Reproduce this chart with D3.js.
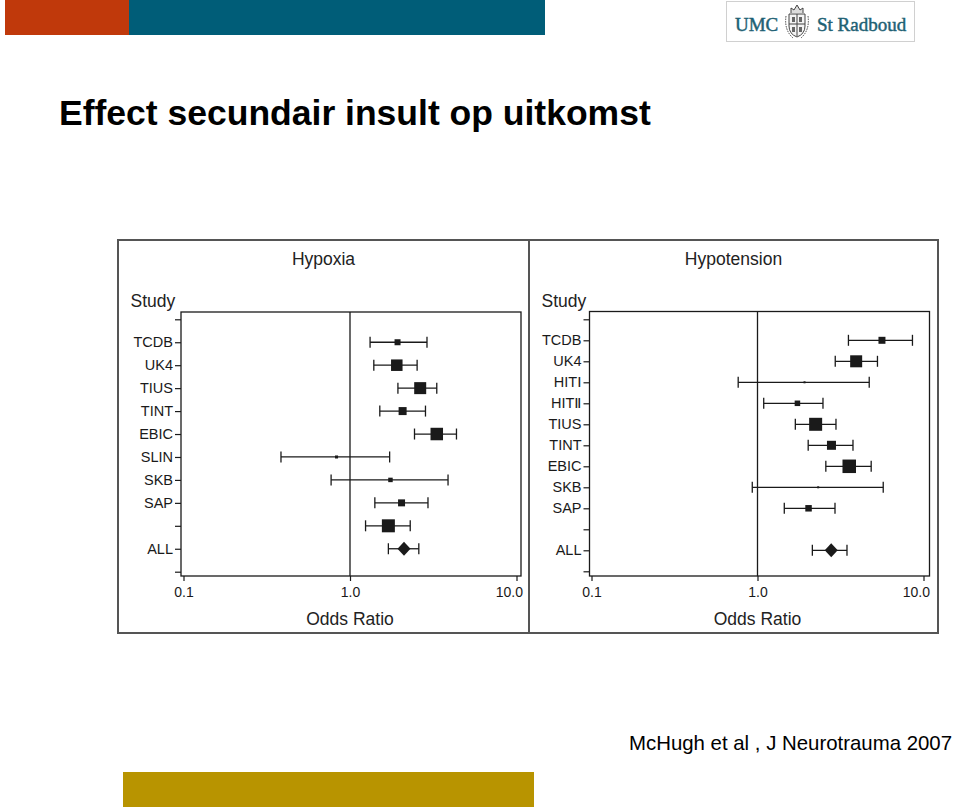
<!DOCTYPE html>
<html>
<head>
<meta charset="utf-8">
<script src="https://cdn.jsdelivr.net/npm/d3@7"></script>
<style>
  html, body { margin: 0; padding: 0; background: #fff; }
  svg { display: block; }
  text { font-family: "Liberation Sans", Arial, Helvetica, sans-serif; }
</style>
</head>
<body>
<svg id="chart" width="960" height="809"></svg>
<script>
// ---------------- DATA ----------------
const hypoxiaLabels = ["", "TCDB", "UK4", "TIUS", "TINT", "EBIC", "SLIN", "SKB", "SAP", "", "ALL", ""];
const hypoxiaOR     = [null, 1.93, 1.91, 2.64, 2.07, 3.32, 0.83, 1.75, 2.04, 1.70, 2.11, null];
const hypoxiaLow    = [null, 1.32, 1.39, 1.94, 1.51, 2.44, 0.385, 0.77, 1.41, 1.24, 1.70, null];
const hypoxiaHigh   = [null, 2.90, 2.53, 3.32, 2.84, 4.36, 1.73, 3.88, 2.94, 2.30, 2.59, null];
const hypoxiaWeight = [null, 5.9, 21.7, 23.6, 10.5, 25.6, 1.5, 3.3, 8.0, 27.7, null, null];

const hypotensionLabels = ["", "TCDB", "UK4", "HIT\u2160", "HIT\u2161", "TIUS", "TINT", "EBIC", "SKB", "SAP", "", "ALL", ""];
const hypotensionOR     = [null, 5.62, 3.93, 1.92, 1.74, 2.24, 2.79, 3.57, 2.32, 2.03, null, 2.78, null];
const hypotensionLow    = [null, 3.53, 2.94, 0.765, 1.09, 1.69, 2.02, 2.58, 0.93, 1.45, null, 2.14, null];
const hypotensionHigh   = [null, 8.58, 5.28, 4.71, 2.48, 2.97, 3.76, 4.84, 5.72, 2.93, null, 3.46, null];
const hypotensionWeight = [null, 8.0, 23.6, 0.66, 5.0, 27.7, 13.3, 29.9, 0.66, 6.9, null, null, null];

const xTickValues = [0.1, 1, 10];
const panelTitles = ["Hypoxia", "Hypotension"];
const studyTitle = "Study";
const xAxisTitle = "Odds Ratio";
const pageTitle = "Effect secundair insult op uitkomst";
const citation = "McHugh et al , J Neurotrauma 2007";

// ---------------- LAYOUT ----------------
const svg = d3.select("#chart");

// Top banner bars
svg.append("rect").attr("x", 5).attr("y", 0).attr("width", 124).attr("height", 35).attr("fill", "#c0390b");
svg.append("rect").attr("x", 129).attr("y", 0).attr("width", 416).attr("height", 35).attr("fill", "#005d78");
// Bottom gold bar
svg.append("rect").attr("x", 123).attr("y", 772).attr("width", 411).attr("height", 35).attr("fill", "#b89400");

// Logo
const logo = svg.append("g");
logo.append("rect").attr("x", 726.5).attr("y", 1.5).attr("width", 188).attr("height", 40)
  .attr("fill", "#fff").attr("stroke", "#d0d0d0").attr("stroke-width", 1);
[["UMC", 735], ["St Radboud", 817]].forEach(([t, xx]) => {
  logo.append("text").attr("x", xx).attr("y", 31).text(t)
    .style("font-family", "'Liberation Serif', 'DejaVu Serif', serif").style("font-size", "19px")
    .attr("fill", "#1e6174").attr("stroke", "#1e6174").attr("stroke-width", 0.45);
});
// emblem
const em = logo.append("g").attr("transform", "translate(797,22)").attr("fill", "none").attr("stroke", "#444").attr("stroke-width", 1);
em.append("path").attr("d", "M-8,-8 L8,-8 L8,4 Q8,12 0,15 Q-8,12 -8,4 Z").attr("fill", "#f4f4f4");
em.append("path").attr("d", "M0,-8 L0,14 M-8,2 L8,2");
em.append("path").attr("d", "M-6,-9 L-6,-14 L-3,-12 L0,-17 L3,-12 L6,-14 L6,-9").attr("fill", "#ddd");
em.append("path").attr("d", "M-11,-6 Q-13,8 -4,16 M11,-6 Q13,8 4,16").attr("stroke-dasharray", "1.5,1");
em.append("path").attr("d", "M-5,-5 L-2,-5 L-2,0 L-5,0 Z M2,-5 L5,-5 L5,0 L2,0 Z M-5,5 L-2,5 L-2,10 L-5,10 Z M2,5 L5,5 L5,10 L2,10 Z").attr("fill", "#666").attr("stroke", "none");

// Title
svg.append("text").attr("x", 59).attr("y", 125).text(pageTitle)
  .style("font-size", "35.5px").style("font-weight", "bold").attr("fill", "#000");

// Citation
svg.append("text").attr("x", 629).attr("y", 750).text(citation)
  .style("font-size", "20.4px").attr("fill", "#000");

// ---------------- PANELS ----------------
const panels = [
  { title: panelTitles[0], labels: hypoxiaLabels, or: hypoxiaOR, low: hypoxiaLow, high: hypoxiaHigh, weight: hypoxiaWeight,
    outer: [118, 240, 529, 633], frame: [181, 312, 521, 576], xr: [183.5, 516.5], yr: [319.3, 571.7] },
  { title: panelTitles[1], labels: hypotensionLabels, or: hypotensionOR, low: hypotensionLow, high: hypotensionHigh, weight: hypotensionWeight,
    outer: [529, 240, 938, 633], frame: [589.5, 311.5, 929.5, 576], xr: [591.5, 923.5], yr: [319.3, 571.3] }
];

const sizeScale = d3.scaleSqrt().domain([0, 100]).range([0, 24.7]);
const ink = "#1a1a1a";

panels.forEach(p => {
  const g = svg.append("g");
  const [ox0, oy0, ox1, oy1] = p.outer;
  const [fx0, fy0, fx1, fy1] = p.frame;
  const cx = (ox0 + ox1) / 2;

  // panel title
  g.append("text").attr("x", cx).attr("y", 265).attr("text-anchor", "middle")
    .text(p.title).style("font-size", "17.5px").attr("fill", "#222");
  // Study label
  g.append("text").attr("x", ox0 + 12.5).attr("y", 306.5).text(studyTitle)
    .style("font-size", "17.5px").attr("fill", "#222");

  const x = d3.scaleLog().domain([0.1, 10]).range(p.xr);
  const y = d3.scalePoint().domain(d3.range(p.labels.length)).range(p.yr);

  // y axis
  const yAxis = d3.axisLeft(y).tickSize(6).tickPadding(2).tickFormat(i => p.labels[i]);
  const ya = g.append("g").attr("transform", `translate(${fx0},0)`).call(yAxis);
  ya.select(".domain").remove();
  ya.selectAll("line").attr("stroke", ink).attr("stroke-width", 1.2);
  ya.selectAll("text").style("font-size", "14.5px").style("font-family", "'Liberation Sans', Arial, 'DejaVu Sans', sans-serif").attr("fill", "#1a1a1a");

  // x axis
  const xAxis = d3.axisBottom(x).tickValues(xTickValues).tickSize(5).tickPadding(6).tickFormat(d3.format(".1f"));
  const xa = g.append("g").attr("transform", `translate(0,${fy1})`).call(xAxis);
  xa.select(".domain").remove();
  xa.selectAll("line").attr("stroke", ink).attr("stroke-width", 1.2);
  xa.selectAll("text").style("font-size", "14px").style("font-family", "'Liberation Sans', Arial, sans-serif").attr("fill", "#1a1a1a");
  // last tick label is pulled inside the frame, as in the original
  xa.selectAll(".tick").filter(d => d === xTickValues[xTickValues.length - 1])
    .select("text").attr("text-anchor", "end").attr("x", 6);

  // x title
  g.append("text").attr("x", x(1)).attr("y", 625).attr("text-anchor", "middle")
    .text(xAxisTitle).style("font-size", "17.5px").attr("fill", "#222");

  // frame
  g.append("rect").attr("x", fx0).attr("y", fy0).attr("width", fx1 - fx0).attr("height", fy1 - fy0)
    .attr("fill", "none").attr("stroke", ink).attr("stroke-width", 1.3);
  // reference line at OR = 1
  g.append("line").attr("x1", x(1)).attr("x2", x(1)).attr("y1", fy0).attr("y2", fy1)
    .attr("stroke", ink).attr("stroke-width", 1.3);

  // outer panel border
  g.append("rect").attr("x", ox0).attr("y", oy0).attr("width", ox1 - ox0).attr("height", oy1 - oy0)
    .attr("fill", "none").attr("stroke", "#555").attr("stroke-width", 2);

  // marks
  const rows = d3.range(p.labels.length).filter(i => p.or[i] != null);
  const m = g.append("g");
  rows.forEach(i => {
    const yy = y(i);
    const xl = x(p.low[i]), xh = x(p.high[i]), xc = x(p.or[i]);
    m.append("line").attr("x1", xl).attr("x2", xh).attr("y1", yy).attr("y2", yy)
      .attr("stroke", ink).attr("stroke-width", 1.3);
    [xl, xh].forEach(xv => {
      m.append("line").attr("x1", xv).attr("x2", xv).attr("y1", yy - 5.5).attr("y2", yy + 5.5)
        .attr("stroke", ink).attr("stroke-width", 1.3);
    });
    if (p.weight[i] != null) {
      const s = sizeScale(p.weight[i]);
      m.append("rect").attr("x", xc - s / 2).attr("y", yy - s / 2).attr("width", s).attr("height", s)
        .attr("fill", ink);
    } else {
      m.append("path").attr("d", `M${xc},${yy - 7} L${xc + 6.5},${yy} L${xc},${yy + 7} L${xc - 6.5},${yy} Z`)
        .attr("fill", ink);
    }
  });
});
</script>
</body>
</html>
